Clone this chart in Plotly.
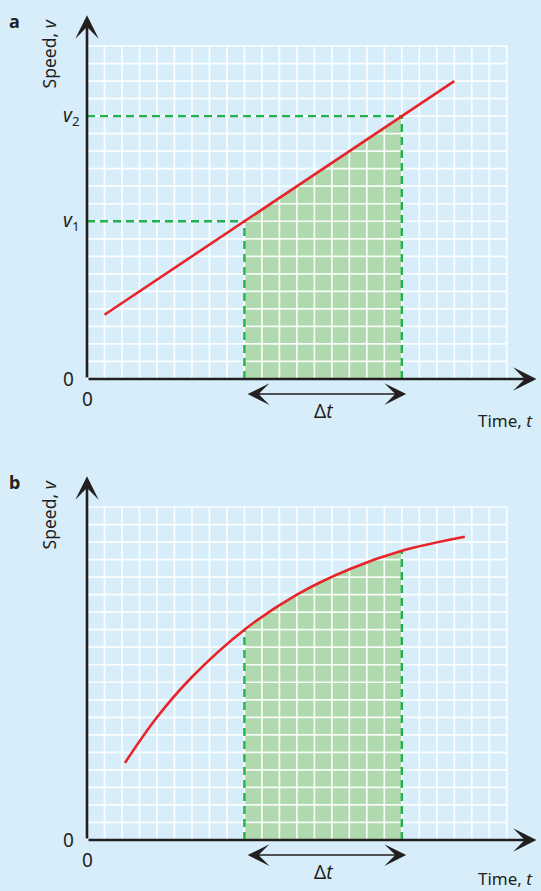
import plotly.graph_objects as go

# ---------------- data ----------------
grid_cols = 24          # number of grid cells along time
grid_rows = 19          # number of grid cells along speed

# panel a: straight line v(t)
a_line_t = [1, 21]
a_line_v = [11 / 3, 17]
a_t1, a_t2 = 9, 18
a_v1, a_v2 = 9, 15

# panel b: curve
b_curve_t = [2.17, 4.0, 6.0, 9.0, 12.0, 15.0, 18.0, 21.6]
b_curve_v = [4.4, 7.0, 9.3, 12.0, 14.0, 15.45, 16.5, 17.3]
b_t1, b_t2 = 9, 18
b_v1, b_v2 = 12.0, 16.5

axis_tip_t = 25.7
axis_tip_v = 20.75

# ---------------- styles ----------------
BG = "#d7eefa"
FILL = "#b0d9b0"
GREEN = "#22b24c"
RED = "#e8232a"
INK = "#231f20"
FONT = "Noto Sans"

W, H = 541, 891
CX, CY = 17.49, 17.526
X0PX = 87
A_ORIGIN_PY, B_ORIGIN_PY = 379, 840
SPLIT = 445

fig = go.Figure()


def grid_trace(xa, ya):
    xs, ys = [], []
    for i in range(grid_cols + 1):
        xs += [i, i, None]
        ys += [0, grid_rows, None]
    for j in range(grid_rows + 1):
        xs += [0, grid_cols, None]
        ys += [j, j, None]
    return go.Scatter(x=xs, y=ys, mode="lines", xaxis=xa, yaxis=ya,
                      line=dict(color="rgba(255,255,255,0.9)", width=1.7),
                      hoverinfo="skip", showlegend=False)


# ---------- panel a ----------
fig.add_trace(go.Scatter(x=[a_t1, a_t1, a_t2, a_t2], y=[0, a_v1, a_v2, 0],
                         fill="toself", fillcolor=FILL, mode="lines",
                         line=dict(width=0), xaxis="x", yaxis="y",
                         hoverinfo="skip", showlegend=False))
fig.add_trace(grid_trace("x", "y"))
dash = "8px,5px"
for xs, ys in [([0, a_t1], [a_v1, a_v1]), ([0, a_t2], [a_v2, a_v2]),
               ([a_t1, a_t1], [0, a_v1]), ([a_t2, a_t2], [0, a_v2])]:
    fig.add_trace(go.Scatter(x=xs, y=ys, mode="lines", xaxis="x", yaxis="y",
                             line=dict(color=GREEN, width=2.4, dash=dash),
                             hoverinfo="skip", showlegend=False))
fig.add_trace(go.Scatter(x=a_line_t, y=a_line_v, mode="lines", xaxis="x", yaxis="y",
                         line=dict(color=RED, width=2.6),
                         hoverinfo="skip", showlegend=False))

# ---------- panel b ----------
sub_t = [t for t in b_curve_t if b_t1 <= t <= b_t2]
sub_v = [v for t, v in zip(b_curve_t, b_curve_v) if b_t1 <= t <= b_t2]
fig.add_trace(go.Scatter(x=sub_t, y=sub_v, fill="tozeroy", fillcolor=FILL,
                         mode="lines", line=dict(width=0, shape="spline"),
                         xaxis="x2", yaxis="y2", hoverinfo="skip", showlegend=False))
fig.add_trace(grid_trace("x2", "y2"))
for xs, ys in [([b_t1, b_t1], [0, b_v1]), ([b_t2, b_t2], [0, b_v2])]:
    fig.add_trace(go.Scatter(x=xs, y=ys, mode="lines", xaxis="x2", yaxis="y2",
                             line=dict(color=GREEN, width=2.4, dash=dash),
                             hoverinfo="skip", showlegend=False))
fig.add_trace(go.Scatter(x=b_curve_t, y=b_curve_v, mode="lines", xaxis="x2", yaxis="y2",
                         line=dict(color=RED, width=2.6, shape="spline"),
                         hoverinfo="skip", showlegend=False))

# ---------- annotations ----------
ann = []


def arrow(xr, yr, x, y, ax, ay, width, size, both=False):
    d = dict(xref=xr, yref=yr, axref=xr, ayref=yr, x=x, y=y, ax=ax, ay=ay,
             text="", showarrow=True, arrowhead=3, arrowsize=size,
             arrowwidth=width, arrowcolor=INK, standoff=0, startstandoff=0)
    if both:
        d.update(arrowside="end+start", startarrowhead=3, startarrowsize=size)
    return d


def label(xr, yr, x, y, text, size=18, **kw):
    d = dict(xref=xr, yref=yr, x=x, y=y, text=text, showarrow=False,
             font=dict(family=FONT, size=size, color=INK))
    d.update(kw)
    return d


for xr, yr, t1, t2, letter, time_y in [("x", "y", a_t1, a_t2, "a", -2.35),
                                       ("x2", "y2", b_t1, b_t2, "b", -2.22)]:
    ann.append(arrow(xr, yr, axis_tip_t, 0, 0, 0, 2.6, 1.5))
    ann.append(arrow(xr, yr, 0, axis_tip_v, 0, 0, 2.6, 1.5))
    ann.append(arrow(xr, yr, t2 + 0.25, -0.86, t1 + 0.1, -0.86, 1.4, 2.6, both=True))
    ann.append(label(xr, yr, (t1 + t2) / 2 + 0.05, -1.8, "Δ<i>t</i>", size=19))
    ann.append(label(xr, yr, 23.9, time_y, "Time, <i>t</i>", size=17))
    ann.append(label(xr, yr, -2.2, 18.55, "Speed, <i>v</i>", size=17.5, textangle=-90))
    ann.append(label(xr, yr, -1.03, 0, "0", size=19))
    ann.append(label(xr, yr, 0, -1.14, "0", size=19))
    ann.append(label(xr, yr, -4.12, 20.45, "<b>" + letter + "</b>", size=18))

ann.append(label("x", "y", -0.35, a_v2, "<i>v</i><sub>2</sub>", size=19, xanchor="right"))
ann.append(label("x", "y", -0.35, a_v1, "<i>v</i><sub>1</sub>", size=19, xanchor="right"))

xrange = [-X0PX / CX, (W - X0PX) / CX]
ax_common = dict(visible=False, showgrid=False, zeroline=False, fixedrange=True)
fig.update_layout(
    width=W, height=H,
    margin=dict(l=0, r=0, t=0, b=0),
    paper_bgcolor=BG, plot_bgcolor=BG,
    showlegend=False,
    annotations=ann,
    xaxis=dict(domain=[0, 1], range=xrange, anchor="y", **ax_common),
    yaxis=dict(domain=[1 - SPLIT / H, 1], anchor="x",
               range=[(A_ORIGIN_PY - SPLIT) / CY, A_ORIGIN_PY / CY], **ax_common),
    xaxis2=dict(domain=[0, 1], range=xrange, anchor="y2", **ax_common),
    yaxis2=dict(domain=[0, 1 - (SPLIT + 1) / H], anchor="x2",
                range=[(B_ORIGIN_PY - H) / CY, (B_ORIGIN_PY - SPLIT - 1) / CY], **ax_common),
)

fig.write_html(
    "out.html",
    config={"displayModeBar": False, "staticPlot": True},
    post_script="document.body.style.margin='0';document.body.style.overflow='hidden';",
)
